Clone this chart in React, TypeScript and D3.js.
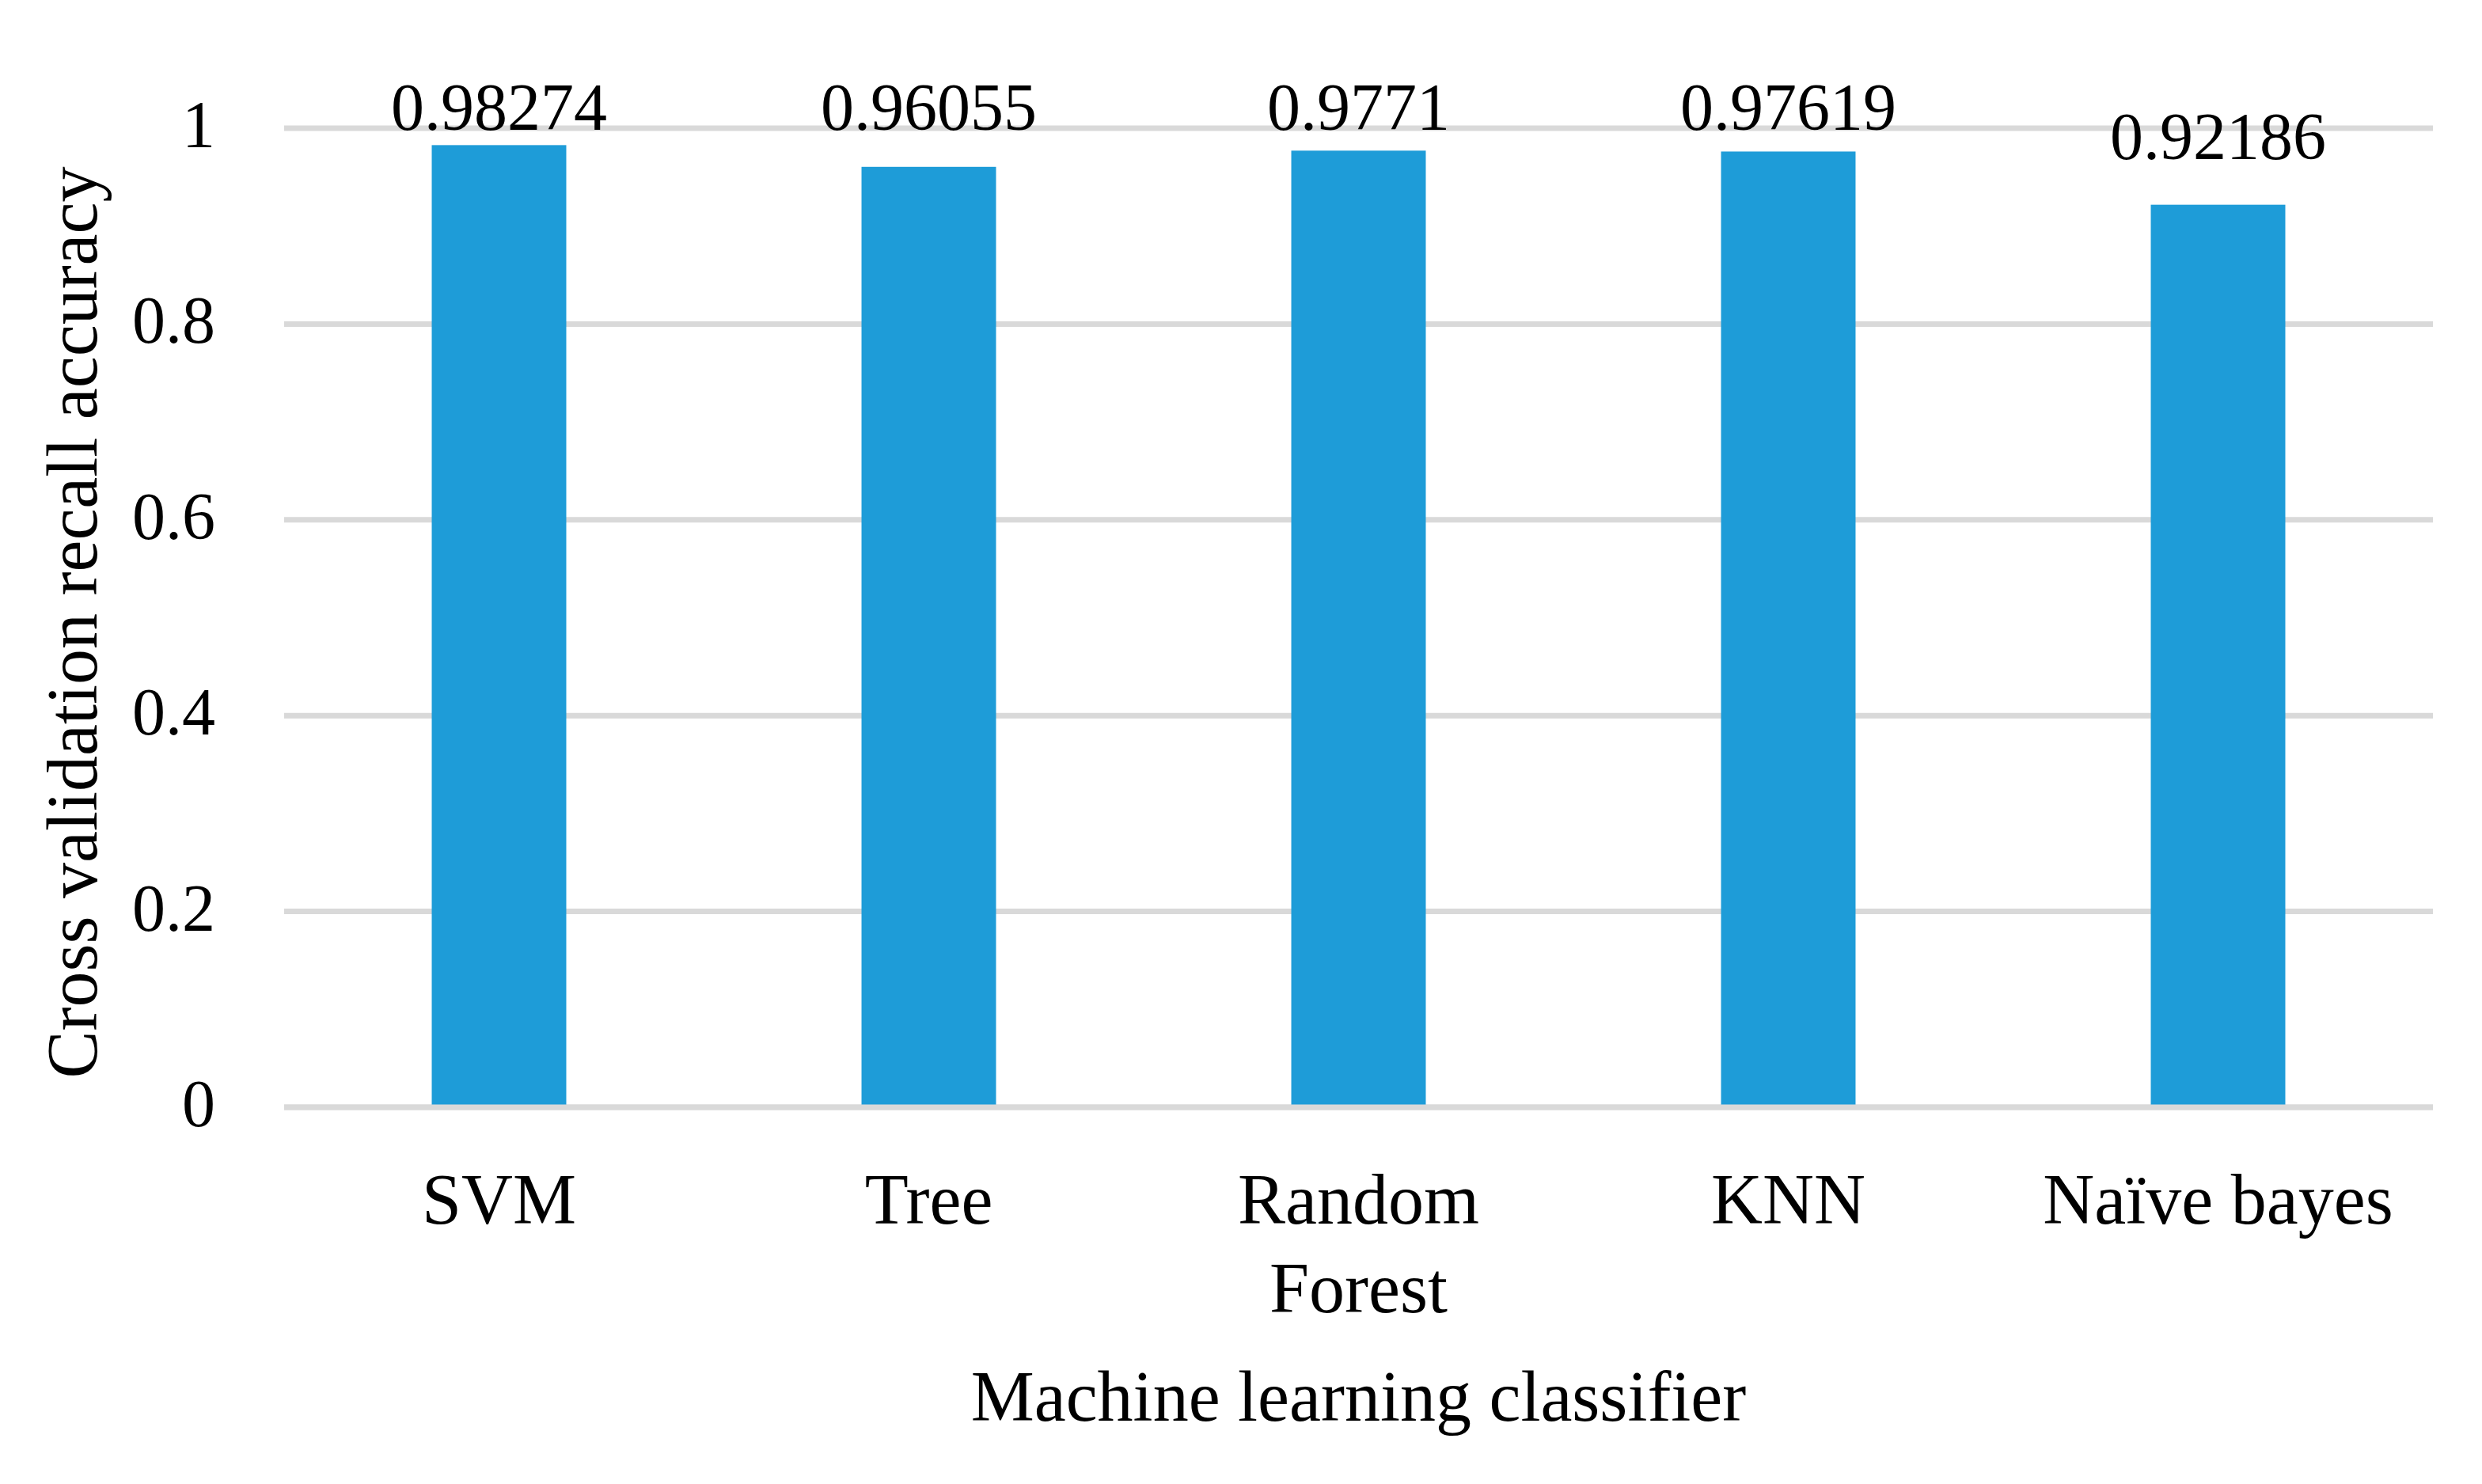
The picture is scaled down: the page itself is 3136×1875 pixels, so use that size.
import React, { useEffect, useRef } from "react";
import * as d3 from "d3";

const categories = ["SVM", "Tree", "Random Forest", "KNN", "Naïve bayes"];
const recall = [0.98274, 0.96055, 0.9771, 0.97619, 0.92186];
const valueLabels = ["0.98274", "0.96055", "0.9771", "0.97619", "0.92186"];
const yTicks = [0, 0.2, 0.4, 0.6, 0.8, 1];
const yTickLabels = ["0", "0.2", "0.4", "0.6", "0.8", "1"];
const xTitle = "Machine learning classifier";
const yTitle = "Cross validation recall accuracy";

const W = 3136;
const H = 1875;
const FONT = "'Liberation Serif', 'Times New Roman', serif";
const BAR = "#1E9CD8";
const GRID = "#D9D9D9";

export default function App() {
  const ref = useRef<SVGSVGElement | null>(null);

  useEffect(() => {
    const svg = d3.select(ref.current);
    svg.selectAll("*").remove();

    const x0 = 359, x1 = 3074;
    const y = d3.scaleLinear().domain([0, 1]).range([1399, 162]);
    const band = d3.scaleBand<string>().domain(categories).range([x0, x1]).padding(0);
    const bars = d3
      .scaleBand<string>()
      .domain(categories)
      .range([x0, x1])
      .paddingInner(0.687)
      .paddingOuter(0.3435);

    // gridlines
    svg
      .append("g")
      .selectAll("line")
      .data(yTicks)
      .join("line")
      .attr("x1", x0)
      .attr("x2", x1)
      .attr("y1", (d) => y(d))
      .attr("y2", (d) => y(d))
      .attr("stroke", GRID)
      .attr("stroke-width", 7);

    // bars
    svg
      .append("g")
      .selectAll("rect")
      .data(recall)
      .join("rect")
      .attr("x", (_, i) => bars(categories[i])!)
      .attr("width", bars.bandwidth())
      .attr("y", (d) => y(d))
      .attr("height", (d) => y(0) - y(d))
      .attr("fill", BAR);

    // zero axis line on top
    svg
      .append("line")
      .attr("x1", x0)
      .attr("x2", x1)
      .attr("y1", y(0))
      .attr("y2", y(0))
      .attr("stroke", GRID)
      .attr("stroke-width", 7);

    // y tick labels
    svg
      .append("g")
      .selectAll("text")
      .data(yTicks)
      .join("text")
      .attr("x", 272)
      .attr("y", (d) => y(d) + 24)
      .attr("text-anchor", "end")
      .attr("font-family", FONT)
      .attr("font-size", 84)
      .attr("fill", "#000")
      .text((_, i) => yTickLabels[i]);

    // value labels
    const labelLimit = y(1) + 2;
    svg
      .append("g")
      .selectAll("text")
      .data(recall)
      .join("text")
      .attr("x", (_, i) => band(categories[i])! + band.bandwidth() / 2)
      .attr("y", (d) => Math.max(y(d) - 58, labelLimit))
      .attr("text-anchor", "middle")
      .attr("font-family", FONT)
      .attr("font-size", 84)
      .attr("fill", "#000")
      .text((_, i) => valueLabels[i]);

    // category labels with wrapping
    const catG = svg.append("g");
    categories.forEach((c, i) => {
      const cx = band(c)! + band.bandwidth() / 2;
      const t = catG
        .append("text")
        .attr("x", cx)
        .attr("y", 1546)
        .attr("text-anchor", "middle")
        .attr("font-family", FONT)
        .attr("font-size", 90)
        .attr("fill", "#000");
      const words = c.split(" ");
      let line: string[] = [];
      let lineNo = 0;
      let tspan = t.append("tspan").attr("x", cx).attr("dy", 0);
      words.forEach((w) => {
        line.push(w);
        tspan.text(line.join(" "));
        const node = tspan.node() as SVGTSpanElement;
        if (node.getComputedTextLength() > band.bandwidth() && line.length > 1) {
          line.pop();
          tspan.text(line.join(" "));
          line = [w];
          lineNo++;
          tspan = t.append("tspan").attr("x", cx).attr("dy", 112).text(w);
        }
      });
    });

    // axis titles
    svg
      .append("text")
      .attr("x", (x0 + x1) / 2)
      .attr("y", 1795)
      .attr("text-anchor", "middle")
      .attr("font-family", FONT)
      .attr("font-size", 90)
      .attr("fill", "#000")
      .text(xTitle);

    svg
      .append("text")
      .attr("transform", `translate(122, ${(y(0) + y(1)) / 2 + 6}) rotate(-90)`)
      .attr("text-anchor", "middle")
      .attr("font-family", FONT)
      .attr("font-size", 90)
      .attr("fill", "#000")
      .text(yTitle);
  }, []);

  return (
    <svg
      ref={ref}
      width={W}
      height={H}
      style={{ position: "absolute", left: 0, top: 0, background: "#fff", display: "block" }}
    />
  );
}
